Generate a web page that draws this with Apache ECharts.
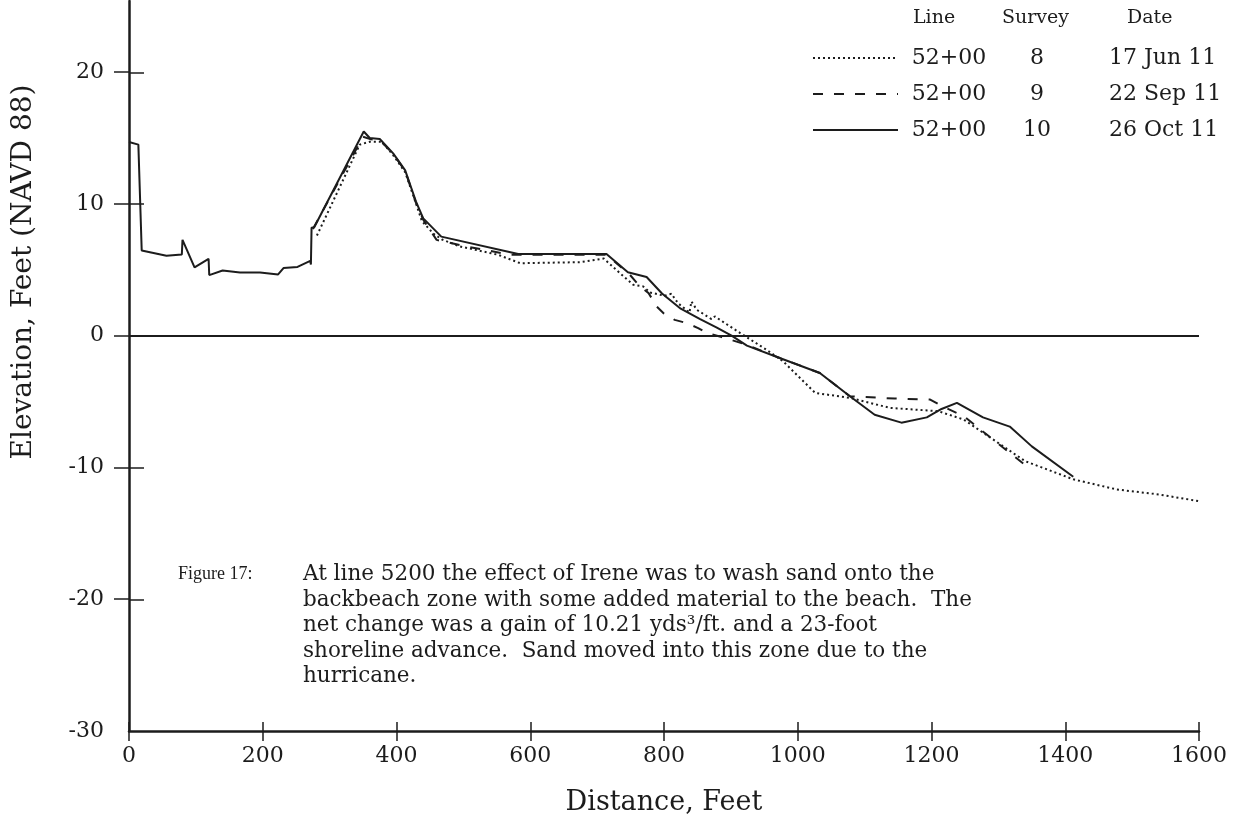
<!DOCTYPE html>
<html>
<head>
<meta charset="utf-8">
<script src="https://cdn.jsdelivr.net/npm/echarts@6/dist/echarts.min.js"></script>
<style>
html,body{margin:0;padding:0;background:#ffffff;}
#chart{width:1250px;height:821px;}
</style>
</head>
<body>
<div id="chart"></div>
<script>
// ---------------- data ----------------
const xTickValues = [0, 200, 400, 600, 800, 1000, 1200, 1400, 1600];
const yTickValues = [-30, -20, -10, 0, 10, 20];

// Survey 8, 17 Jun 11 (dotted)
const s8Dist = [281, 345, 360, 378, 395, 413, 430, 438, 455, 468, 495, 552, 585, 674, 710, 734, 754, 769, 779, 801, 811, 821, 838, 841, 849, 871, 876, 914, 953, 978, 1026, 1078, 1138, 1210, 1248, 1340, 1412, 1477, 1540, 1599];
const s8Elev = [7.6, 14.5, 14.72, 14.72, 13.7, 12.4, 9.9, 8.7, 7.75, 7.3, 6.77, 6.14, 5.5, 5.58, 5.85, 4.75, 3.86, 3.74, 3.28, 3.03, 3.18, 2.47, 1.75, 2.6, 1.97, 1.26, 1.46, 0.2, -1.06, -1.94, -4.34, -4.72, -5.48, -5.73, -6.36, -9.52, -10.9, -11.67, -12.05, -12.55];

// Survey 9, 22 Sep 11 (dashed)
const s9Dist = [275, 350, 362, 375, 395, 413, 429, 440, 460, 505, 570, 714, 749, 764, 777, 789, 799, 816, 834, 851, 864, 886, 899, 924, 973, 1033, 1078, 1145, 1198, 1218, 1248, 1285, 1342];
const s9Elev = [8.1, 15.1, 14.9, 14.85, 13.8, 12.5, 10.1, 8.8, 7.27, 6.77, 6.14, 6.14, 4.62, 3.74, 3.23, 2.22, 1.72, 1.2, 0.96, 0.58, 0.2, -0.1, -0.3, -0.7, -1.69, -2.83, -4.6, -4.77, -4.85, -5.4, -6.1, -7.6, -9.9];

// Survey 10, 26 Oct 11 (solid)
const s10Dist = [0, 14, 19, 56, 79, 80, 98, 119, 120, 140, 166, 196, 223, 231, 252, 271, 272, 273, 277, 351, 360, 375, 395, 413, 429, 440, 467, 582, 714, 746, 774, 797, 825, 854, 879, 901, 924, 973, 1033, 1078, 1115, 1155, 1193, 1215, 1238, 1277, 1317, 1350, 1412];
const s10Elev = [14.7, 14.5, 6.46, 6.06, 6.16, 7.27, 5.18, 5.83, 4.6, 4.95, 4.8, 4.8, 4.65, 5.13, 5.22, 5.68, 5.4, 8.2, 8.23, 15.5, 15.0, 14.93, 13.84, 12.55, 10.2, 8.9, 7.52, 6.2, 6.2, 4.82, 4.45, 3.2, 2.05, 1.26, 0.62, 0, -0.75, -1.69, -2.83, -4.6, -6.0, -6.6, -6.2, -5.56, -5.1, -6.2, -6.9, -8.4, -10.7];

const seriesNames = ['Survey 8', 'Survey 9', 'Survey 10'];
const legendLine = ['52+00', '52+00', '52+00'];
const legendSurvey = ['8', '9', '10'];
const legendDate = ['17 Jun 11', '22 Sep 11', '26 Oct 11'];
const legendHeader = ['Line', 'Survey', 'Date'];

const xTitle = 'Distance, Feet';
const yTitle = 'Elevation, Feet (NAVD 88)';
const figureLabel = 'Figure 17:';
const captionLines = [
  'At line 5200 the effect of Irene was to wash sand onto the',
  'backbeach zone with some added material to the beach.  The',
  'net change was a gain of 10.21 yds\u00B3/ft. and a 23-foot',
  'shoreline advance.  Sand moved into this zone due to the',
  'hurricane.'
];

// ---------------- chart ----------------
const FONT = '"DejaVu Serif", serif';
const INK = '#1c1c1c';

function pairs(xs, ys) { return xs.map((x, i) => [x, ys[i]]); }
function plain(v) { return String(v); }

const chart = echarts.init(document.getElementById('chart'), null, {renderer: 'canvas'});

const gridPos = {left: 129, right: 51, top: 1, bottom: 89};

const option = {
  backgroundColor: '#ffffff',
  animation: false,
  textStyle: {fontFamily: FONT, color: INK},
  grid: [Object.assign({}, gridPos), Object.assign({}, gridPos)],
  xAxis: [
    {
      type: 'value', gridIndex: 0, min: 0, max: 1600, interval: 200,
      axisLine: {show: true, onZero: false, lineStyle: {color: INK, width: 2.5}},
      axisTick: {show: true, inside: false, length: 10, lineStyle: {color: INK, width: 1.5}},
      axisLabel: {show: true, margin: 14, fontFamily: FONT, fontSize: 22, color: INK,
        customValues: xTickValues, formatter: plain},
      splitLine: {show: false},
      name: xTitle, nameLocation: 'middle', nameGap: 58,
      nameTextStyle: {fontFamily: FONT, fontSize: 27, color: INK}
    },
    {
      type: 'value', gridIndex: 1, min: 0, max: 1600, interval: 200,
      axisLine: {show: false, onZero: false},
      axisTick: {show: true, inside: true, length: 10, lineStyle: {color: INK, width: 1.5}},
      axisLabel: {show: false},
      splitLine: {show: false}
    }
  ],
  yAxis: [
    {
      type: 'value', gridIndex: 0, min: -30, max: 25.4,
      axisLine: {show: true, onZero: false, lineStyle: {color: INK, width: 2.5}},
      axisTick: {show: true, inside: false, length: 15, lineStyle: {color: INK, width: 1.5},
        customValues: [-20, -10, 0, 10, 20]},
      axisLabel: {show: true, margin: 25, fontFamily: FONT, fontSize: 22, color: INK,
        customValues: yTickValues, formatter: plain},
      splitLine: {show: false}
    },
    {
      type: 'value', gridIndex: 1, min: -30, max: 25.4,
      axisLine: {show: false, onZero: false},
      axisTick: {show: true, inside: true, length: 15, lineStyle: {color: INK, width: 1.5},
        customValues: [-20, -10, 10, 20]},
      axisLabel: {show: false},
      splitLine: {show: false}
    }
  ],
  legend: {
    data: seriesNames,
    orient: 'vertical',
    left: 812, top: 45,
    padding: 0,
    itemWidth: 85, itemHeight: 12, itemGap: 10,
    selectedMode: false,
    itemStyle: {opacity: 0},
    textStyle: {
      fontFamily: FONT, fontSize: 22, color: INK, lineHeight: 26,
      rich: {
        a: {fontFamily: FONT, fontSize: 22, color: INK, width: 92, align: 'right'},
        b: {fontFamily: FONT, fontSize: 22, color: INK, width: 84, align: 'center'},
        c: {fontFamily: FONT, fontSize: 22, color: INK, padding: [0, 0, 0, 30]}
      }
    },
    formatter: function (name) {
      const i = seriesNames.indexOf(name);
      return '{a|' + legendLine[i] + '}{b|' + legendSurvey[i] + '}{c|' + legendDate[i] + '}';
    }
  },
  title: [
    {
      left: 913, top: 9, padding: 0,
      text: '{l|' + legendHeader[0] + '}{s|' + legendHeader[1] + '}{d|' + legendHeader[2] + '}',
      textStyle: {
        fontFamily: FONT, fontSize: 19, fontWeight: 'normal', color: INK,
        rich: {
          l: {fontFamily: FONT, fontSize: 19, color: INK, width: 89},
          s: {fontFamily: FONT, fontSize: 19, color: INK, width: 125},
          d: {fontFamily: FONT, fontSize: 19, color: INK}
        }
      }
    },
    {
      left: 178, top: 565, padding: 0,
      text: figureLabel,
      textStyle: {fontFamily: '"Liberation Serif", serif', fontSize: 18, fontWeight: 'normal', color: INK}
    },
    {
      left: 303, top: 562, padding: 0,
      text: captionLines.join('\n'),
      textStyle: {fontFamily: FONT, fontSize: 21.5, fontWeight: 'normal', color: INK, lineHeight: 25.5}
    }
  ],
  graphic: [
    {
      type: 'text', x: 24, y: 272, rotation: Math.PI / 2,
      style: {text: yTitle, font: '28px "DejaVu Serif", serif', fill: INK,
        align: 'center', verticalAlign: 'middle'}
    }
  ],
  series: [
    {
      name: seriesNames[0], type: 'line', xAxisIndex: 0, yAxisIndex: 0,
      data: pairs(s8Dist, s8Elev), symbol: 'none', silent: true,
      lineStyle: {color: INK, width: 2, type: [2, 3]},
      itemStyle: {color: INK}
    },
    {
      name: seriesNames[1], type: 'line', xAxisIndex: 0, yAxisIndex: 0,
      data: pairs(s9Dist, s9Elev), symbol: 'none', silent: true,
      lineStyle: {color: INK, width: 2, type: [10, 11]},
      itemStyle: {color: INK}
    },
    {
      name: seriesNames[2], type: 'line', xAxisIndex: 0, yAxisIndex: 0,
      data: pairs(s10Dist, s10Elev), symbol: 'none', silent: true,
      lineStyle: {color: INK, width: 2, type: 'solid'},
      itemStyle: {color: INK},
      markLine: {
        silent: true, symbol: ['none', 'none'], label: {show: false},
        lineStyle: {color: INK, width: 1.8, type: 'solid'},
        data: [{yAxis: 0}]
      }
    }
  ]
};

chart.setOption(option);
</script>
</body>
</html>
